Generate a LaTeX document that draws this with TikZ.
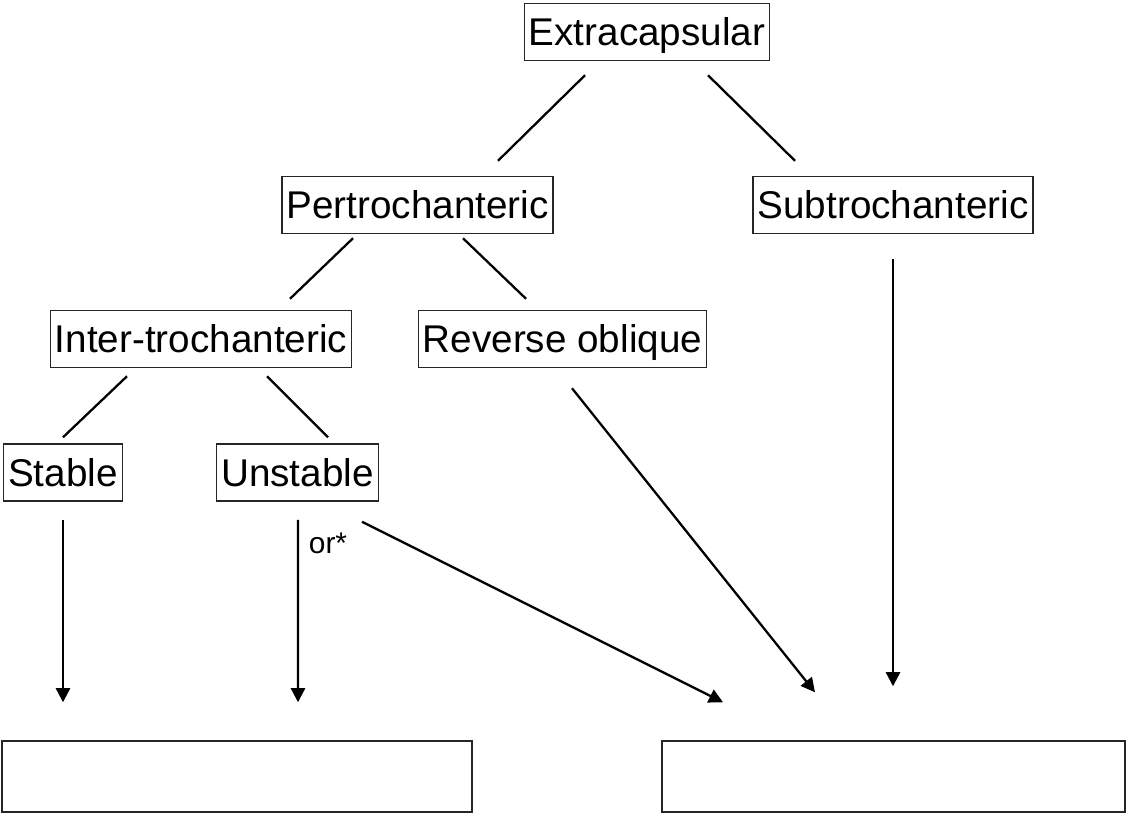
\documentclass[tikz,border=0pt]{standalone}
\usepackage{fontspec}
\setmainfont{Liberation Sans}
\usetikzlibrary{arrows.meta}

\tikzset{
		fracture/.style={
			draw=black!85, line width=0.85pt,
			inner xsep=2.6pt, inner ysep=0pt,
			text height=15.75pt, text depth=0pt,
			minimum height=1.14cm,
			font=\fontsize{22}{24}\selectfont
		},
		outcome/.style={draw=black!85, line width=0.85pt, minimum height=1.42cm},
		branch/.style={line width=1.3pt},
		leadsto/.style={branch, -{Triangle[length=8pt,width=8pt]}}
	}

\begin{document}
\begin{tikzpicture}[x=0.02cm, y=-0.02cm]
				\useasboundingbox (0,0) rectangle (1131,833);
				% the classes
				\node[fracture] (extra) at (647,32) {Extracapsular};
				\node[fracture] (pertro) at (417.5,205) {Pertrochanteric};
				\node[fracture] (subtro) at (893,205) {Subtrochanteric};
				\node[fracture] (inter) at (201,339) {Inter-trochanteric};
				\node[fracture] (revobl) at (562.5,339) {Reverse oblique};
				\node[fracture] (stable) at (63,472.5) {Stable};
				\node[fracture] (unstable) at (297.5,472.5) {Unstable};
				% the two empty boxes
				\node[outcome, minimum width=9.4cm] (outleft) at (237,776.5) {};
				\node[outcome, minimum width=9.26cm] (outright) at (893.5,776.5) {};
				% branches
				\draw[branch] ([shift={(-62,14)}]extra.south) -- ([shift={(80.5,-15)}]pertro.north);
				\draw[branch] ([shift={(61,14)}]extra.south) -- ([shift={(-98,-15)}]subtro.north);
				\draw[branch] ([shift={(-64.5,4)}]pertro.south) -- ([shift={(89,-11)}]inter.north);
				\draw[branch] ([shift={(45.5,4)}]pertro.south) -- ([shift={(-36.5,-11)}]revobl.north);
				\draw[branch] ([shift={(-74,8)}]inter.south) -- ([shift={(0,-6)}]stable.north);
				\draw[branch] ([shift={(66,8)}]inter.south) -- ([shift={(30.5,-6)}]unstable.north);
				% arrows down
				\draw[leadsto] ([shift={(0,18)}]stable.south) -- ([shift={(-174,-38)}]outleft.north);
				\draw[leadsto] ([shift={(0.5,18)}]unstable.south) -- ([shift={(61,-38)}]outleft.north);
				\draw[leadsto] ([shift={(64.5,20)}]unstable.south) -- ([shift={(-170.5,-38)}]outright.north);
				\draw[leadsto] ([shift={(9.5,20)}]revobl.south) -- ([shift={(-78.5,-48)}]outright.north);
				\draw[leadsto] ([shift={(0,25)}]subtro.south) -- ([shift={(-0.5,-54)}]outright.north);
				\node[font=\fontsize{17}{20}\selectfont] (orstar) at (328,543) {or*};
			\end{tikzpicture}
\end{document}
